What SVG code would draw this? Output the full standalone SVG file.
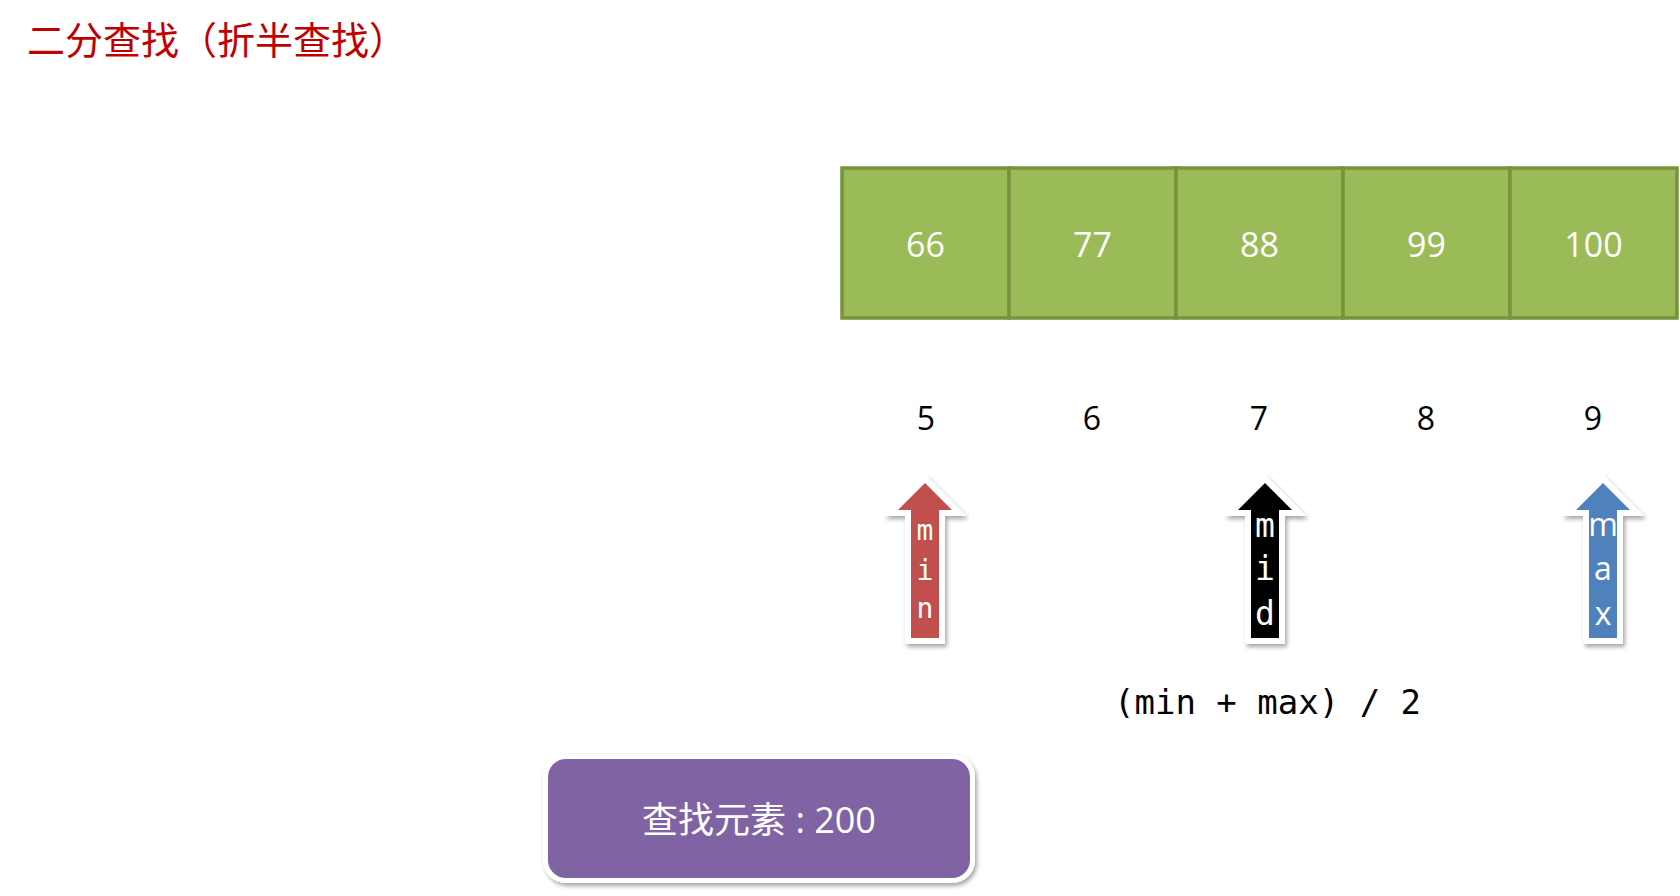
<svg xmlns="http://www.w3.org/2000/svg" width="1680" height="896" viewBox="0 0 1680 896">
<defs>
<filter id="sh" x="-30%" y="-30%" width="160%" height="160%">
<feDropShadow dx="2" dy="3" stdDeviation="2" flood-color="#000" flood-opacity="0.35"/>
</filter>
<style>
.title{font-family:"Noto Sans CJK SC",sans-serif;font-size:38px;fill:#C00000}
.cell{fill:#9BBB59;stroke:#77933C;stroke-width:3.5}
.val{font-family:"Open Sans","Noto Sans",sans-serif;font-size:34px;fill:#fff;text-anchor:middle}
.idx{font-family:"Open Sans","Noto Sans",sans-serif;font-size:32px;fill:#000;text-anchor:middle}
.arr{stroke:#fff;stroke-width:12;stroke-linejoin:miter;stroke-miterlimit:10;paint-order:stroke fill;filter:url(#sh)}
.mono{font-family:"DejaVu Sans Mono",monospace;fill:#fff;text-anchor:middle}
.sans{font-family:"Open Sans","Noto Sans",sans-serif;fill:#fff;text-anchor:middle}
.formula{font-family:"DejaVu Sans Mono",monospace;font-size:34px;fill:#000}
.box{fill:#8064A2;stroke:#fff;stroke-width:10;paint-order:stroke fill;filter:url(#sh)}
.boxt{font-family:"Open Sans","Noto Sans CJK SC",sans-serif;font-size:36px;fill:#fff;text-anchor:middle}
</style>
</defs>
<rect width="1680" height="896" fill="#fff"/>
<g id="title"><text class="title" x="27" y="54">二分查找（折半查找）</text></g>
<g id="array">
<g id="cell0"><rect class="cell" x="842" y="168" width="167" height="150"/><text class="val" x="925.5" y="257">66</text></g>
<g id="cell1"><rect class="cell" x="1009" y="168" width="167" height="150"/><text class="val" x="1092.5" y="257">77</text></g>
<g id="cell2"><rect class="cell" x="1176" y="168" width="167" height="150"/><text class="val" x="1259.5" y="257">88</text></g>
<g id="cell3"><rect class="cell" x="1343" y="168" width="167" height="150"/><text class="val" x="1426.5" y="257">99</text></g>
<g id="cell4"><rect class="cell" x="1510" y="168" width="167" height="150"/><text class="val" x="1593.5" y="257">100</text></g>
</g>
<g id="indices">
<text class="idx" x="926" y="430">5</text>
<text class="idx" x="1092" y="430">6</text>
<text class="idx" x="1259" y="430">7</text>
<text class="idx" x="1426" y="430">8</text>
<text class="idx" x="1593" y="430">9</text>
</g>
<g id="arrow-min">
<path class="arr" fill="#C0504D" d="M925,483 L952,510 L939,510 L939,638 L911,638 L911,510 L898,510 Z"/>
<text class="mono" font-size="28" x="925" y="540">m</text>
<text class="mono" font-size="28" x="925" y="580">i</text>
<text class="mono" font-size="28" x="925" y="618">n</text>
</g>
<g id="arrow-mid">
<path class="arr" fill="#000" d="M1265,483 L1292,510 L1279,510 L1279,638 L1251,638 L1251,510 L1238,510 Z"/>
<text class="mono" font-size="33" x="1265" y="537">m</text>
<text class="mono" font-size="33" x="1265" y="580">i</text>
<text class="mono" font-size="33" x="1265" y="625">d</text>
</g>
<g id="arrow-max">
<path class="arr" fill="#4F81BD" d="M1603,483 L1630,510 L1617,510 L1617,638 L1589,638 L1589,510 L1576,510 Z"/>
<text class="sans" font-size="32" x="1603" y="536">m</text>
<text class="sans" font-size="32" x="1603" y="580">a</text>
<text class="sans" font-size="32" x="1603" y="625">x</text>
</g>
<g id="formula"><text class="formula" x="1114" y="714">(min + max) / 2</text></g>
<g id="search-box">
<rect class="box" x="548" y="759" width="422" height="119" rx="18"/>
<text class="boxt" x="759" y="833">查找元素 : 200</text>
</g>
</svg>
